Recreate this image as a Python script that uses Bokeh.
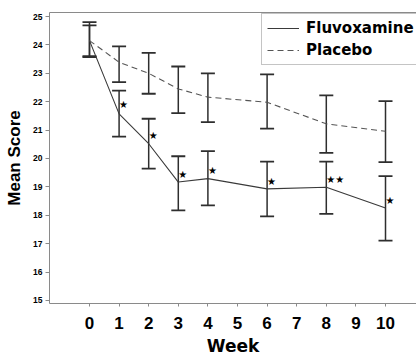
from bokeh.plotting import figure
from bokeh.models import (ColumnDataSource, Whisker, TeeHead, Legend, LegendItem,
                          FixedTicker, LinearAxis, Range1d)
from bokeh.core.properties import value
from bokeh.embed import file_html
from bokeh.resources import INLINE

# ---- data ----
weeks = [0, 1, 2, 3, 4, 6, 8, 10]
fluvox_mean = [24.15, 21.57, 20.52, 19.17, 19.29, 18.93, 18.99, 18.26]
fluvox_upper = [24.80, 22.39, 21.40, 20.08, 20.26, 19.89, 19.89, 19.38]
fluvox_lower = [23.57, 20.77, 19.64, 18.17, 18.35, 17.96, 18.05, 17.11]
placebo_mean = [24.15, 23.39, 23.00, 22.45, 22.16, 21.98, 21.22, 20.96]
placebo_upper = [24.69, 23.95, 23.72, 23.24, 23.00, 22.96, 22.22, 22.02]
placebo_lower = [23.60, 22.69, 22.28, 21.60, 21.28, 21.05, 20.20, 19.87]

star_weeks = [1, 2, 3, 4, 6, 8, 10]
star_y = [21.89, 20.81, 19.44, 19.58, 19.20, 19.26, 18.52]
star_text = ["★", "★", "★", "★", "★", "★★", "★"]

x_ticks = [0, 1, 2, 3, 4, 5, 6, 7, 8, 9, 10]
y_ticks = [15, 16, 17, 18, 19, 20, 21, 22, 23, 24, 25]

src_f = ColumnDataSource(dict(x=weeks, y=fluvox_mean, up=fluvox_upper, lo=fluvox_lower))
src_p = ColumnDataSource(dict(x=weeks, y=placebo_mean, up=placebo_upper, lo=placebo_lower))
src_s = ColumnDataSource(dict(x=star_weeks, y=star_y, t=star_text))

p = figure(width=416, height=360, output_backend="svg", toolbar_location=None,
           x_range=Range1d(-1.351, 11.047), y_range=Range1d(14.894, 25.141),
           min_border_left=49, min_border_right=0, min_border_top=12, min_border_bottom=57,
           background_fill_color="white", border_fill_color="white")
p.outline_line_color = None
p.grid.visible = False

axis_col = "#8a8a8a"
for ax in (p.xaxis[0], p.yaxis[0]):
    ax.axis_line_color = axis_col
    ax.major_tick_line_color = axis_col
    ax.minor_tick_line_color = None
    ax.major_tick_in = 0
    ax.major_label_text_color = "black"
    ax.major_label_text_font = "Liberation Sans"
    ax.major_label_text_font_style = "bold"
    ax.axis_label_text_color = "black"
    ax.axis_label_text_font_style = "bold"

p.xaxis.ticker = FixedTicker(ticks=x_ticks)
p.xaxis.major_tick_out = 3
p.xaxis.major_label_standoff = 10
p.xaxis.major_label_text_font_size = "17px"
p.xaxis.axis_label = "Week"
p.xaxis.axis_label_text_font = "DejaVu Sans"
p.xaxis.axis_label_text_font_size = "17px"
p.xaxis.axis_label_standoff = 4

p.yaxis.ticker = FixedTicker(ticks=y_ticks)
p.yaxis.major_tick_out = 4
p.yaxis.major_label_standoff = 3
p.yaxis.major_label_text_font_size = "8.5px"
p.yaxis.axis_label = "Mean Score"
p.yaxis.axis_label_text_font = "Liberation Sans"
p.yaxis.axis_label_text_font_size = "17px"
p.yaxis.axis_label_standoff = 6

top = LinearAxis(ticker=FixedTicker(ticks=[]), axis_line_color=axis_col,
                 major_tick_in=0, major_tick_out=0, minor_tick_line_color=None,
                 major_label_text_font_size="0px")
p.add_layout(top, "above")

r_f = p.line("x", "y", source=src_f, line_color="#3a3a3a", line_width=1.1)
r_p = p.line("x", "y", source=src_p, line_color="#555555", line_width=1.1, line_dash="6 4")

bar_col = "#2e2e2e"
for src in (src_p, src_f):
    w = Whisker(source=src, base="x", upper="up", lower="lo", dimension="height",
                line_color=bar_col, line_width=1.5,
                upper_head=TeeHead(size=14, line_color=bar_col, line_width=1.8),
                lower_head=TeeHead(size=14, line_color=bar_col, line_width=1.8))
    p.add_layout(w)

p.text("x", "y", text="t", source=src_s, text_font=value("DejaVu Sans"),
       text_font_size="10px", text_align="left", text_baseline="middle",
       text_color="black", x_offset=0)

legend = Legend(items=[LegendItem(label="Fluvoxamine", renderers=[r_f]),
                       LegendItem(label="Placebo", renderers=[r_p])],
                location=(212, 238), margin=0, padding=5, spacing=4,
                glyph_width=32, glyph_height=18, label_height=18, label_standoff=7,
                border_line_color="#8a8a8a", border_line_width=1,
                background_fill_color="white", background_fill_alpha=1,
                label_text_font="DejaVu Sans", label_text_font_style="bold",
                label_text_font_size="15px", label_text_color="black")
p.add_layout(legend)

open("out.html", "w").write(file_html(p, INLINE))
